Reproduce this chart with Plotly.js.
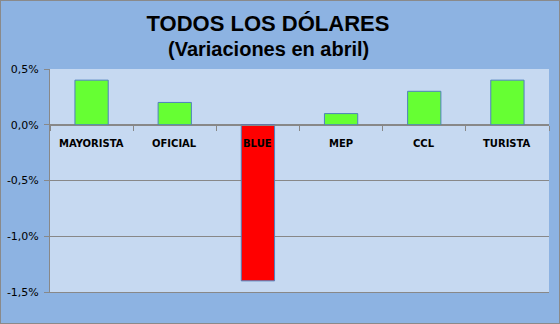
<!DOCTYPE html>
<html>
<head>
<meta charset="utf-8">
<script src="https://cdn.plot.ly/plotly-3.0.1.min.js"></script>
<style>
  html, body { margin: 0; padding: 0; background: #8DB3E2; }
  #wrap { position: relative; width: 560px; height: 324px; }
  #chart { position: absolute; left: 0; top: 0; width: 560px; height: 324px; }
  #frame { position: absolute; left: 0; top: 0; width: 560px; height: 324px; box-sizing: border-box;
           border: 1px solid #8a8a8a; pointer-events: none; z-index: 10; }
</style>
</head>
<body>
<div id="wrap"><div id="chart"></div><div id="frame"></div></div>
<script>
// Data (percent variation in April)
const categories = ['MAYORISTA', 'OFICIAL', 'BLUE', 'MEP', 'CCL', 'TURISTA'];
const values = [0.4, 0.2, -1.4, 0.1, 0.3, 0.4];
const yTickVals = [-1.5, -1.0, -0.5, 0.0, 0.5];
const yTickText = ['-1,5%', '-1,0%', '-0,5%', '0,0%', '0,5%'];
const titleText = 'TODOS LOS DÓLARES';
const subtitleText = '(Variaciones en abril)';

const yRange = [-1.5, 0.5];
const W = 560, H = 324;
const margin = { l: 50, r: 11, t: 69, b: 32 };
const plotW = W - margin.l - margin.r;
const plotH = H - margin.t - margin.b;
const titleCenterX = 268;

const barColors = values.map(v => v < 0 ? '#FF0000' : '#66FF33');

const trace = {
  type: 'bar',
  x: categories,
  y: values,
  marker: { color: barColors, line: { color: '#4F81BD', width: 1 } },
  hoverinfo: 'x+y'
};

// fraction of the plot height where y = 0
const zeroFrac = (0 - yRange[0]) / (yRange[1] - yRange[0]);

const annotations = categories.map((c, i) => ({
  x: c, y: 0, xref: 'x', yref: 'y',
  text: '<b>' + c + '</b>',
  showarrow: false,
  yanchor: 'top', yshift: -11,
  font: { family: 'DejaVu Sans', size: 10, color: '#000000' }
}));

annotations.push({
  x: (titleCenterX - margin.l) / plotW, xref: 'paper', xanchor: 'center',
  y: (H - margin.b - 49) / plotH, yref: 'paper', yanchor: 'middle',
  text: '<b>' + subtitleText + '</b>',
  showarrow: false,
  font: { family: 'Liberation Sans, Arial', size: 20, color: '#000' }
});

const layout = {
  width: W, height: H,
  margin: margin,
  paper_bgcolor: '#8DB3E2',
  plot_bgcolor: '#C6D9F1',
  showlegend: false,
  bargap: 0.6,
  title: {
    text: '<b>' + titleText + '</b>',
    x: titleCenterX / W, xanchor: 'center', xref: 'container',
    y: 1 - 23.5 / H, yanchor: 'middle', yref: 'container',
    font: { family: 'Liberation Sans, Arial', size: 22, color: '#000' }
  },
  xaxis: {
    type: 'category',
    anchor: 'free',
    position: zeroFrac,
    showticklabels: false,
    ticks: 'outside', ticklen: 5, tickcolor: '#888888', tickwidth: 1,
    tickson: 'boundaries',
    showline: true, linecolor: '#888888', linewidth: 1,
    showgrid: false, zeroline: false,
    fixedrange: true
  },
  xaxis2: {
    type: 'category',
    overlaying: 'x',
    matches: 'x',
    anchor: 'y',
    side: 'bottom',
    showticklabels: false,
    ticks: '',
    showline: true, linecolor: '#888888', linewidth: 1,
    showgrid: false, zeroline: false,
    fixedrange: true
  },
  yaxis: {
    range: yRange,
    tickvals: yTickVals,
    ticktext: yTickText,
    ticks: 'outside', ticklen: 5, tickcolor: '#888888',
    ticklabelstandoff: 3,
    showline: true, linecolor: '#888888', linewidth: 1,
    showgrid: true, gridcolor: '#888888', gridwidth: 1,
    zeroline: true, zerolinecolor: '#888888', zerolinewidth: 1,
    tickfont: { family: 'DejaVu Sans', size: 11, color: '#000' },
    fixedrange: true
  },
  annotations: annotations
};

// invisible helper trace so the bottom axis is drawn
const helper = { type: 'bar', x: categories, y: categories.map(() => null), xaxis: 'x2', yaxis: 'y', hoverinfo: 'skip', showlegend: false };

Plotly.newPlot('chart', [trace, helper], layout, { displayModeBar: false, staticPlot: true });
</script>
</body>
</html>
